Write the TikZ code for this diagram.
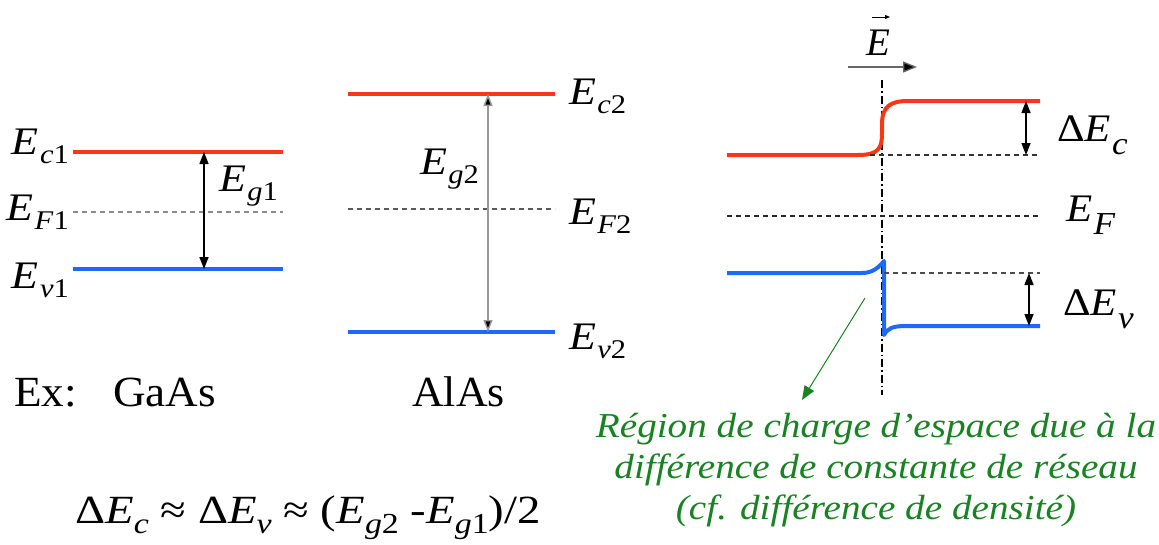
\documentclass[tikz,border=0pt]{standalone}
\usepackage{fontspec}
\setmainfont{Liberation Serif}
\usetikzlibrary{arrows.meta}
\definecolor{cband}{RGB}{250,55,20}
\definecolor{vband}{RGB}{30,105,250}
\definecolor{note}{RGB}{25,130,35}
% left / middle labels: E with subscript
\newcommand\Lab[2]{\scalebox{1.13}[1]{\textit{E}\kern1pt\raisebox{-9pt}{\fontsize{27}{30}\selectfont\textit{#1}#2}}}
% right labels
\newcommand\Rlab[2]{\scalebox{1.1}[1]{#1\textit{E}\kern1pt\raisebox{-13pt}{\fontsize{32}{34}\selectfont\textit{#2}}}}
\newcommand\Fsub[1]{\raisebox{-10pt}{\fontsize{29}{30}\selectfont #1}}
\begin{document}
\begin{tikzpicture}[x=1pt,y=-1pt,
  band/.style={line width=4pt},
  fermi/.style={line width=1.3pt,dash pattern=on 5pt off 4pt},
  gap/.style={line width=1.4pt,{Triangle[length=12pt,width=9pt]}-{Triangle[length=12pt,width=9pt]}},
  lbl/.style={inner sep=0pt,font=\fontsize{39}{44}\selectfont},
  big/.style={inner sep=0pt,font=\fontsize{43}{48}\selectfont},
  greentxt/.style={inner sep=0pt,text=note,font=\fontsize{35}{41}\selectfont\itshape}]
\useasboundingbox (0,0) rectangle (1159,544);
% ---------- GaAs ----------
\coordinate (c1a) at (73,152); \coordinate (c1b) at (283,152);
\coordinate (f1a) at (73,212); \coordinate (f1b) at (283,212);
\coordinate (v1a) at (73,269); \coordinate (v1b) at (283,269);
\coordinate (g1t) at (204,152); \coordinate (g1b) at (204,269);
\draw[band,cband] (c1a) -- (c1b);
\draw[fermi,black!45] (f1a) -- (f1b);
\draw[band,vband] (v1a) -- (v1b);
\draw[gap,black] (g1t) -- (g1b);
\node[lbl,anchor=base east] (Ec1) at (69,154) {\Lab{c}{1}};
\node[lbl,anchor=base east] (EF1) at (69,220) {\Lab{F}{1}};
\node[lbl,anchor=base east] (Ev1) at (69,288) {\Lab{v}{1}};
\node[lbl,anchor=base west] (Eg1) at (219,191) {\Lab{g}{1}};
% ---------- AlAs ----------
\coordinate (c2a) at (348,94); \coordinate (c2b) at (555,94);
\coordinate (f2a) at (348,209); \coordinate (f2b) at (555,209);
\coordinate (v2a) at (348,332); \coordinate (v2b) at (555,332);
\coordinate (g2t) at (488,94); \coordinate (g2b) at (488,332);
\draw[band,cband] (c2a) -- (c2b);
\draw[fermi,black!65] (f2a) -- (f2b);
\draw[band,vband] (v2a) -- (v2b);
\draw[gap,black!40,{Triangle[length=12pt,width=9pt,fill=black]}-{Triangle[length=12pt,width=9pt,fill=black]}] (g2t) -- (g2b);
\node[lbl,anchor=base west] (Ec2) at (569,104) {\Lab{c}{2}};
\node[lbl,anchor=base west] (EF2) at (569,224) {\Lab{F}{2}};
\node[lbl,anchor=base west] (Ev2) at (569,349) {\Lab{v}{2}};
\node[lbl,anchor=base west] (Eg2) at (420,174) {\Lab{g}{2}};
% ---------- heterojunction ----------
\coordinate (axT) at (882,80); \coordinate (axB) at (882,395);
\draw[line width=1.1pt,dash pattern=on 8pt off 3pt on 1.5pt off 3pt] (axT) -- (axB);
\coordinate (fa) at (848,67); \coordinate (fb) at (917,67);
\draw[line width=1.3pt,black!60,-{Triangle[length=14pt,width=11pt,fill=black]}] (fa) -- (fb);
\node[lbl,anchor=base] (Evec) at (878,55) {\textit{E}};
\coordinate (va) at (872,17); \coordinate (vb) at (890,17);
\draw[line width=0.9pt,-{Triangle[length=5pt,width=4pt]}] (va) -- (vb);
\coordinate (rc0) at (727,155); \coordinate (rc1) at (1040,101);
\draw[band,cband,line join=round] (rc0) -- (858,155) .. controls (879,155) and (882,148) .. (882,133)
  -- (882,124) .. controls (882,106) and (891,101) .. (908,101) -- (rc1);
\coordinate (dc0) at (870,155); \coordinate (dc1) at (1040,155);
\draw[fermi,black!80] (dc0) -- (dc1);
\coordinate (rf0) at (727,216); \coordinate (rf1) at (1040,216);
\draw[fermi,black!85] (rf0) -- (rf1);
\coordinate (rv0) at (727,273); \coordinate (rv1) at (1040,326);
\draw[band,vband,line join=round] (rv0) -- (862,273) .. controls (873,273) and (879,267) .. (884,261)
  -- (884,335) .. controls (888,328) and (893,326) .. (906,326) -- (rv1);
\coordinate (dv0) at (884,273); \coordinate (dv1) at (1040,273);
\draw[fermi,black!70] (dv0) -- (dv1);
\coordinate (dEct) at (1026,101); \coordinate (dEcb) at (1026,155);
\draw[gap] (dEct) -- (dEcb);
\coordinate (dEvt) at (1029,273); \coordinate (dEvb) at (1029,326);
\draw[gap] (dEvt) -- (dEvb);
\node[lbl,anchor=base west] (dEc) at (1057,141) {\Rlab{Δ}{c}};
\node[lbl,anchor=base west] (EF) at (1066,221) {\Rlab{}{F}};
\node[lbl,anchor=base west] (dEv) at (1063,315) {\Rlab{Δ}{v}};
% ---------- note ----------
\coordinate (ns) at (865,298); \coordinate (ne) at (802,400);
\draw[note,line width=1pt,-{Triangle[length=14pt,width=11pt]}] (ns) -- (ne);
\node[greentxt,anchor=base] (n1) at (876,437) {\scalebox{1.12}[1]{Région de charge d’espace due à la}};
\node[greentxt,anchor=base] (n2) at (876,478) {\scalebox{1.12}[1]{différence de constante de réseau}};
\node[greentxt,anchor=base] (n3) at (876,519) {\scalebox{1.12}[1]{(cf. différence de densité)}};
% ---------- bottom ----------
\node[big,anchor=base west] (ex) at (14,406) {\scalebox{1.05}[1]{Ex:}};
\node[big,anchor=base west] (gaas) at (113,406) {\scalebox{1.05}[1]{GaAs}};
\node[big,anchor=base west] (alas) at (412,406) {\scalebox{1.02}[1]{AlAs}};
\node[lbl,anchor=base west,font=\fontsize{40}{44}\selectfont] (eq) at (75,523)
  {\scalebox{1.17}[1]{Δ\textit{E}\Fsub{\textit{c}} ≈ Δ\textit{E}\Fsub{\textit{v}} ≈ (\textit{E}\Fsub{\textit{g}2} -\textit{E}\Fsub{\textit{g}1})/2}};
\end{tikzpicture}
\end{document}
